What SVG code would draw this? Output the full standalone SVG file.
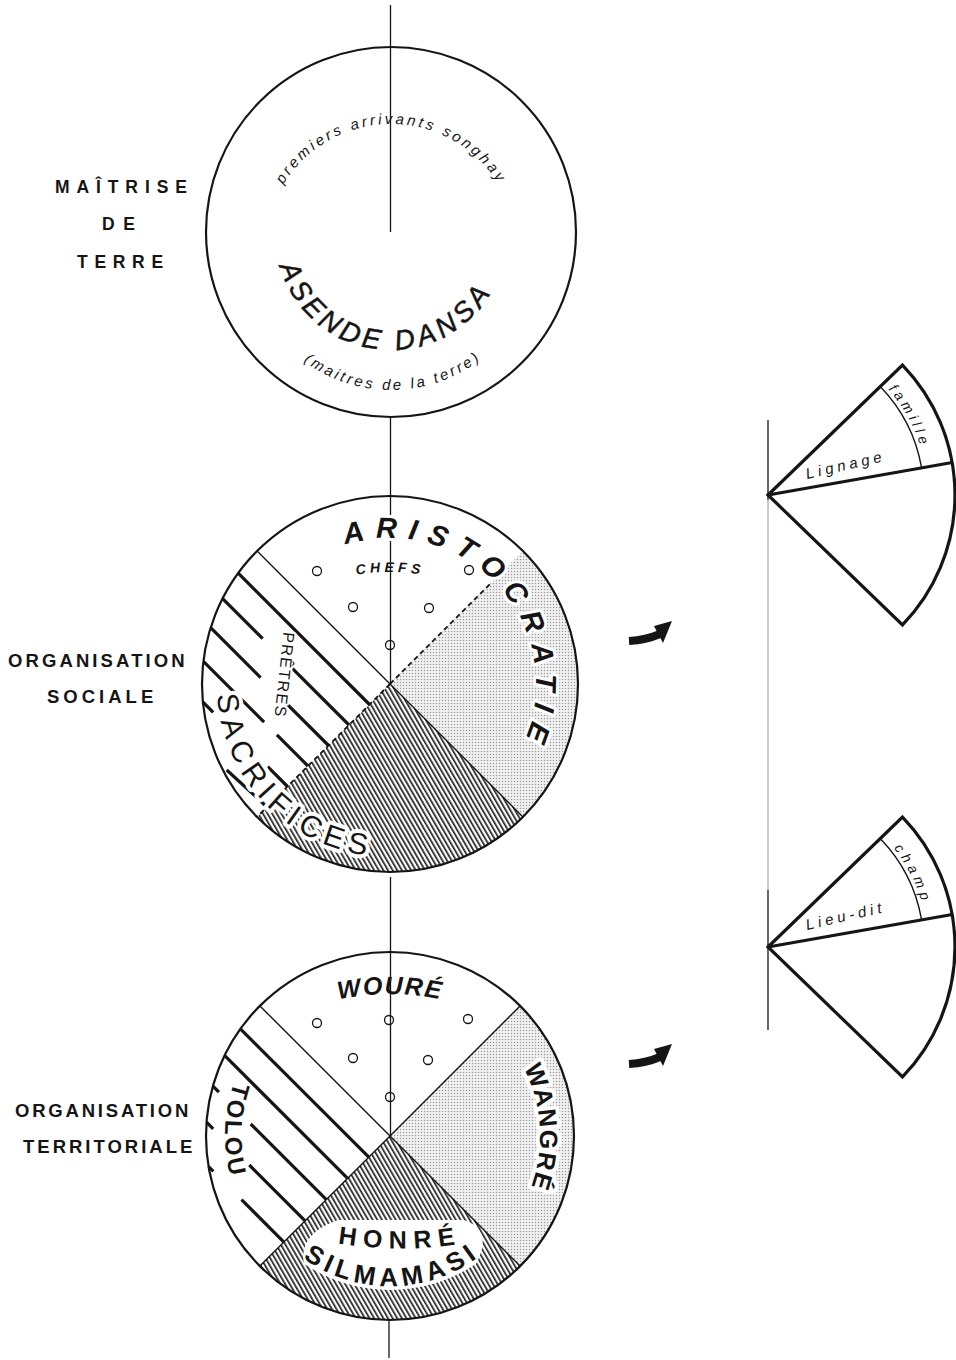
<svg xmlns="http://www.w3.org/2000/svg" width="956" height="1360" viewBox="0 0 956 1360">
<defs>
<style>
.ring{stroke:#151515;stroke-width:2.2;fill:none}
.thick{stroke:#151515;stroke-width:3.2;fill:none}
.thin{stroke:#151515;stroke-width:1.4;fill:none}
.dash{stroke:#151515;stroke-width:1.8;fill:none;stroke-dasharray:5 3.5}
.axis{stroke:#151515;stroke-width:1.3;fill:none}
.mk{fill:none;stroke:#151515;stroke-width:1.3}
text{font-family:"Liberation Sans",Arial,Helvetica,sans-serif;fill:#151515}
.lab{font-weight:bold}
.halo{stroke:#fff;stroke-linejoin:round;paint-order:stroke}
.it{font-style:italic}
</style>
<pattern id="hatch" width="4" height="4" patternUnits="userSpaceOnUse" patternTransform="rotate(-30)">
<rect width="4" height="4" fill="#fff"/>
<rect x="0" y="0" width="1.7" height="4" fill="#222"/>
</pattern>
<pattern id="dots" width="3" height="3" patternUnits="userSpaceOnUse">
<rect width="3" height="3" fill="#f2f2f2"/>
<circle cx="1.5" cy="1.5" r="0.75" fill="#9a9a9a"/>
</pattern>
<path id="pTop1" d="M265,250 A126,126 0 0 1 517,250"/>
<path id="pTop2" d="M275,234 A116,116 0 0 0 507,234"/>
<path id="pTop3" d="M245,244 A146,146 0 0 0 537,244"/>
<path id="pMid1" d="M244,684 A146,146 0 1 1 390,830"/>
<path id="pMid2" d="M310,588.7 A200,200 0 0 1 470,588.7"/>
<path id="pMid3" d="M227.4,624.8 A173,173 0 0 0 476.5,833.8"/>
<path id="pBot1" d="M290,1015 A250,250 0 0 1 490,1015"/>
<path id="pBot2" d="M390,986 A150,150 0 0 1 390,1286"/>
<path id="pBot3" d="M284,1009.6 A165,165 0 0 0 284,1262.4"/>
<path id="pBot4" d="M325,1241 Q400,1256 475,1241"/>
<path id="pBot5" d="M249,1187.3 A150,150 0 0 0 531,1187.3"/>
<path id="pR1" d="M883.1,383.9 A160,160 0 0 1 925.6,467.2"/>
<path id="pR2" d="M883.1,835.9 A160,160 0 0 1 925.6,919.2"/>
</defs>

<rect width="956" height="1360" fill="#fff"/>

<g id="connectors">
<line class="axis" x1="390.5" y1="5" x2="390.5" y2="232"/>
<line class="axis" x1="390.5" y1="417" x2="390.5" y2="684"/>
<line class="axis" x1="390.5" y1="877" x2="390.5" y2="1136"/>
<line class="axis" x1="389" y1="1320" x2="389" y2="1358"/>
<line class="axis" x1="768" y1="420" x2="768" y2="500"/>
<line x1="768" y1="500" x2="768" y2="890" stroke="#c9c9c9" stroke-width="2"/>
<line class="axis" x1="768" y1="890" x2="768" y2="1030"/>
<g fill="#151515">
<path d="M629,641 Q646,640 660,634" stroke="#151515" stroke-width="8" fill="none"/>
<polygon points="672,621 654,626 663,643"/>
<path d="M629,1064 Q646,1063 660,1057" stroke="#151515" stroke-width="8" fill="none"/>
<polygon points="672,1044 654,1049 663,1066"/>
</g>
</g>

<g id="labels-left" class="lab">
<text x="55" y="193" font-size="17.5" letter-spacing="6.9">MAÎTRISE</text>
<text x="102" y="230" font-size="17.5" letter-spacing="8.7">DE</text>
<text x="77" y="268" font-size="17.5" letter-spacing="6.7">TERRE</text>
<text x="8" y="667" font-size="18.5" letter-spacing="3.1">ORGANISATION</text>
<text x="47" y="703" font-size="18.5" letter-spacing="4">SOCIALE</text>
<text x="15" y="1117" font-size="18.5" letter-spacing="2.8">ORGANISATION</text>
<text x="23" y="1153" font-size="18.5" letter-spacing="3">TERRITORIALE</text>
</g>

<g id="circle-maitrise">
<circle class="ring" cx="391" cy="232" r="185"/>
<text class="it" font-size="15" letter-spacing="3"><textPath href="#pTop1" startOffset="50%" text-anchor="middle">premiers arrivants songhay</textPath></text>
<text class="it" font-size="28" letter-spacing="4.5" stroke="#151515" stroke-width="0.5"><textPath href="#pTop2" startOffset="46.5%" text-anchor="middle">ASENDE DANSA</textPath></text>
<text class="it" font-size="15" letter-spacing="2.9"><textPath href="#pTop3" startOffset="50.5%" text-anchor="middle">(maitres de la terre)</textPath></text>
</g>

<g id="circle-sociale">
<path d="M390,684 L522.9,551.1 A188,188 0 0 1 522.9,816.9 Z" fill="url(#dots)"/>
<path d="M390,684 L522.9,816.9 A188,188 0 0 1 257.1,816.9 Z" fill="url(#hatch)"/>
<g class="thick">
<line x1="238.2" y1="573.2" x2="369.5" y2="704.5"/>
<line x1="222.6" y1="598.6" x2="262.7" y2="638.7"/>
<line x1="286.8" y1="662.8" x2="349" y2="725"/>
<line x1="210.6" y1="627.6" x2="260.6" y2="677.6"/>
<line x1="281.8" y1="698.8" x2="328.5" y2="745.5"/>
<line x1="203.4" y1="661.4" x2="264.1" y2="722.2"/>
<line x1="276.9" y1="734.9" x2="308" y2="766"/>
<line x1="202.8" y1="701.9" x2="213.2" y2="712.3"/>
<line x1="267.7" y1="766.7" x2="287.5" y2="786.5"/>
<line x1="226.7" y1="770" x2="267" y2="807"/>
</g>
<line class="thin" x1="257.1" y1="551.1" x2="522.9" y2="816.9"/>
<line class="dash" x1="390" y1="684" x2="491" y2="583"/>
<line class="dash" x1="390" y1="684" x2="257.1" y2="816.9"/>
<circle class="ring" cx="390" cy="684" r="188"/>
<g class="mk">
<circle cx="317" cy="571" r="4.5"/><circle cx="469" cy="570" r="4.5"/>
<circle cx="353" cy="607" r="4.5"/><circle cx="429" cy="608" r="4.5"/>
<circle cx="390" cy="645" r="4.5"/>
</g>
<text class="it halo" font-size="29" font-weight="bold" letter-spacing="10.5" stroke-width="6"><textPath href="#pMid1" startOffset="51.5%" text-anchor="middle">ARISTOCRATIE</textPath></text>
<text class="it" font-size="14" font-weight="bold" letter-spacing="4"><textPath href="#pMid2" startOffset="50%" text-anchor="middle">CHEFS</textPath></text>
<text class="halo" transform="translate(284,675) rotate(96)" y="5" font-size="16" letter-spacing="1.5" text-anchor="middle" stroke-width="4">PRÊTRES</text>
<text class="halo" font-size="30" letter-spacing="6.3" stroke-width="8"><textPath href="#pMid3" startOffset="45.6%" text-anchor="middle">SACRIFICES</textPath></text>
</g>

<g id="circle-territoriale">
<path d="M390,1136 L520.1,1005.9 A184,184 0 0 1 520.1,1266.1 Z" fill="url(#dots)"/>
<path d="M390,1136 L520.1,1266.1 A184,184 0 0 1 259.9,1266.1 Z" fill="url(#hatch)"/>
<path d="M303.9,1263.7 Q298,1234 338,1220 L464,1220 Q494,1230 476.1,1263.7 A154,154 0 0 1 303.9,1263.7 Z" fill="#fff"/>
<g class="thick">
<line x1="240.4" y1="1028.9" x2="368.8" y2="1157.2"/>
<line x1="224.5" y1="1055.4" x2="347.6" y2="1178.4"/>
<line x1="212.9" y1="1086.1" x2="218.9" y2="1092.2"/>
<line x1="250.7" y1="1124" x2="326.4" y2="1199.6"/>
<line x1="206.5" y1="1122.2" x2="213.2" y2="1128.9"/>
<line x1="249.3" y1="1165" x2="305.1" y2="1220.9"/>
<line x1="208.6" y1="1166.7" x2="213.3" y2="1171.4"/>
<line x1="241.5" y1="1199.6" x2="283.9" y2="1242.1"/>
</g>
<line class="thin" x1="259.9" y1="1005.9" x2="520.1" y2="1266.1"/>
<line class="thin" x1="390" y1="1136" x2="520.1" y2="1005.9" stroke-width="2"/>
<line class="thin" x1="390" y1="1136" x2="259.9" y2="1266.1" stroke-width="2.4"/>
<circle class="ring" cx="390" cy="1136" r="184"/>
<g class="mk">
<circle cx="317" cy="1023" r="4.5"/><circle cx="389" cy="1020" r="4.5"/><circle cx="468" cy="1019" r="4.5"/>
<circle cx="353" cy="1058" r="4.5"/><circle cx="428" cy="1060" r="4.5"/>
<circle cx="390" cy="1097" r="4.5"/>
</g>
<text class="it lab" font-size="25" letter-spacing="1.5"><textPath href="#pBot1" startOffset="50%" text-anchor="middle">WOURÉ</textPath></text>
<text class="lab halo" font-size="25" letter-spacing="2" stroke-width="8"><textPath href="#pBot2" startOffset="48.2%" text-anchor="middle">WANGRÉ</textPath></text>
<text class="lab halo" font-size="24" letter-spacing="3" stroke-width="4"><textPath href="#pBot3" startOffset="48%" text-anchor="middle">TOLOU</textPath></text>
<text class="lab" font-size="25" letter-spacing="7"><textPath href="#pBot4" startOffset="50%" text-anchor="middle">HONRÉ</textPath></text>
<text class="lab" font-size="26" letter-spacing="5"><textPath href="#pBot5" startOffset="50.7%" text-anchor="middle">SILMAMASI</textPath></text>
</g>

<g id="sector-lignage">
<path d="M768,495 L902.5,365.1 A187,187 0 0 1 902.5,624.9 Z" class="thick" stroke-width="2.2"/>
<line x1="768" y1="495" x2="952.2" y2="462.5" class="thick" stroke-width="2.2"/>
<path d="M880.2,386.6 A156,156 0 0 1 921.6,467.9" class="thin" stroke-width="1.1"/>
<text class="it" transform="translate(807,479) rotate(-13)" font-size="15" letter-spacing="4">Lignage</text>
<text class="it" font-size="14" letter-spacing="4"><textPath href="#pR1" startOffset="44%" text-anchor="middle">famille</textPath></text>
</g>

<g id="sector-lieudit">
<path d="M768,947 L902.5,817.1 A187,187 0 0 1 902.5,1076.9 Z" class="thick" stroke-width="2.2"/>
<line x1="768" y1="947" x2="952.2" y2="914.5" class="thick" stroke-width="2.2"/>
<path d="M880.2,838.6 A156,156 0 0 1 921.6,919.9" class="thin" stroke-width="1.1"/>
<text class="it" transform="translate(807,930) rotate(-13)" font-size="15" letter-spacing="4">Lieu-dit</text>
<text class="it" font-size="14" letter-spacing="4.5"><textPath href="#pR2" startOffset="51%" text-anchor="middle">champ</textPath></text>
</g>
</svg>
